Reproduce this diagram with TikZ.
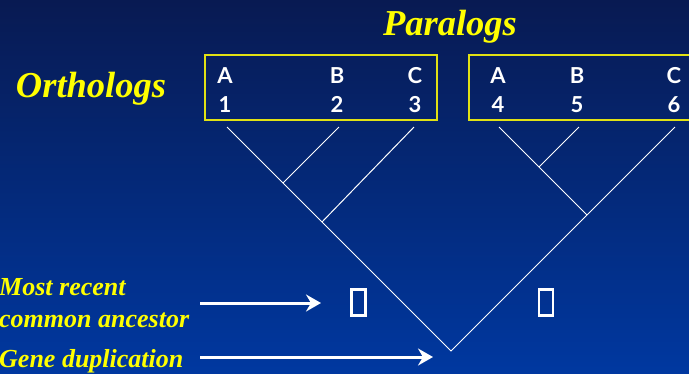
\documentclass[tikz,border=0pt]{standalone}
\usepackage{fontspec}
\setmainfont{Liberation Serif}
\newfontfamily\boxfont{Lato}
\usetikzlibrary{arrows.meta}
\definecolor{bgtop}{RGB}{8,26,82}
\definecolor{bgbot}{RGB}{0,56,160}
\definecolor{ttl}{RGB}{255,255,0}
\definecolor{frame}{RGB}{225,225,20}
\tikzset{
  title/.style={text=ttl,font=\fontsize{36.5}{40}\selectfont\bfseries\itshape,anchor=base,inner sep=0pt},
  lbl/.style={text=ttl,font=\fontsize{26}{28}\selectfont\bfseries\itshape,anchor=base west,inner sep=0pt},
  gene/.style={text=white,font=\boxfont\bfseries\fontsize{22}{24}\selectfont,anchor=base,inner sep=0pt},
  grp/.style={draw=frame,line width=1.5pt},
  branch/.style={draw=white,line width=1pt},
  glyph/.style={draw=white,line width=2.2pt,minimum width=14pt,minimum height=26pt,inner sep=0pt},
  pointer/.style={draw=white,line width=3pt,-{Stealth[length=15pt,width=17pt,inset=5pt]}}
}
\begin{document}
\begin{tikzpicture}[x=1pt,y=-1pt]
\useasboundingbox (0,0) rectangle (689,373);
\clip (0,0) rectangle (689,373);
\shade[top color=bgtop,bottom color=bgbot] (0,0) rectangle (689,373);
% titles
\node[title] (par) at (450,35) {Paralogs};
\node[title] (ort) at (91,97) {Orthologs};
% boxes
\draw[grp] (205,55) rectangle (437,120);
\draw[grp] (469,55) rectangle (700,120);
% gene labels
\node[gene] (a1) at (225,83) {A};
\node[gene] (b1) at (337,83) {B};
\node[gene] (c1) at (415,83) {C};
\node[gene] (n1) at (225,112) {1};
\node[gene] (n2) at (337,112) {2};
\node[gene] (n3) at (415,112) {3};
\node[gene] (a2) at (498,83) {A};
\node[gene] (b2) at (577,83) {B};
\node[gene] (c2) at (674,83) {C};
\node[gene] (n4) at (498,112) {4};
\node[gene] (n5) at (577,112) {5};
\node[gene] (n6) at (674,112) {6};
% tree
\coordinate (l1) at (227,127);
\coordinate (l2) at (339,127);
\coordinate (l3) at (414,127);
\coordinate (l4) at (499,127);
\coordinate (l5) at (579,127);
\coordinate (l6) at (675,127);
\coordinate (j12) at (283,183);
\coordinate (j123) at (322,222);
\coordinate (j45) at (539,167);
\coordinate (j456) at (587,215);
\coordinate (root) at (451,351);
\draw[branch] (l1) -- (j12) -- (j123) -- (root) -- (j456) -- (l6);
\draw[branch] (l2) -- (j12);
\draw[branch] (l3) -- (j123);
\draw[branch] (l4) -- (j45) -- (j456);
\draw[branch] (l5) -- (j45);
% glyph boxes
\node[glyph] (g1) at (358.5,302.5) {};
\node[glyph] (g2) at (546,302.5) {};
% labels
\node[lbl] (mr) at (-1,295) {Most recent};
\node[lbl] (ca) at (-1,327) {common ancestor};
\node[lbl] (gd) at (-1,367) {Gene duplication};
% arrows
\coordinate (s1) at (200,303);
\coordinate (e1) at (321,303);
\coordinate (s2) at (200,357);
\coordinate (e2) at (433,357);
\draw[pointer] (s1) -- (e1);
\draw[pointer] (s2) -- (e2);
\end{tikzpicture}
\end{document}
